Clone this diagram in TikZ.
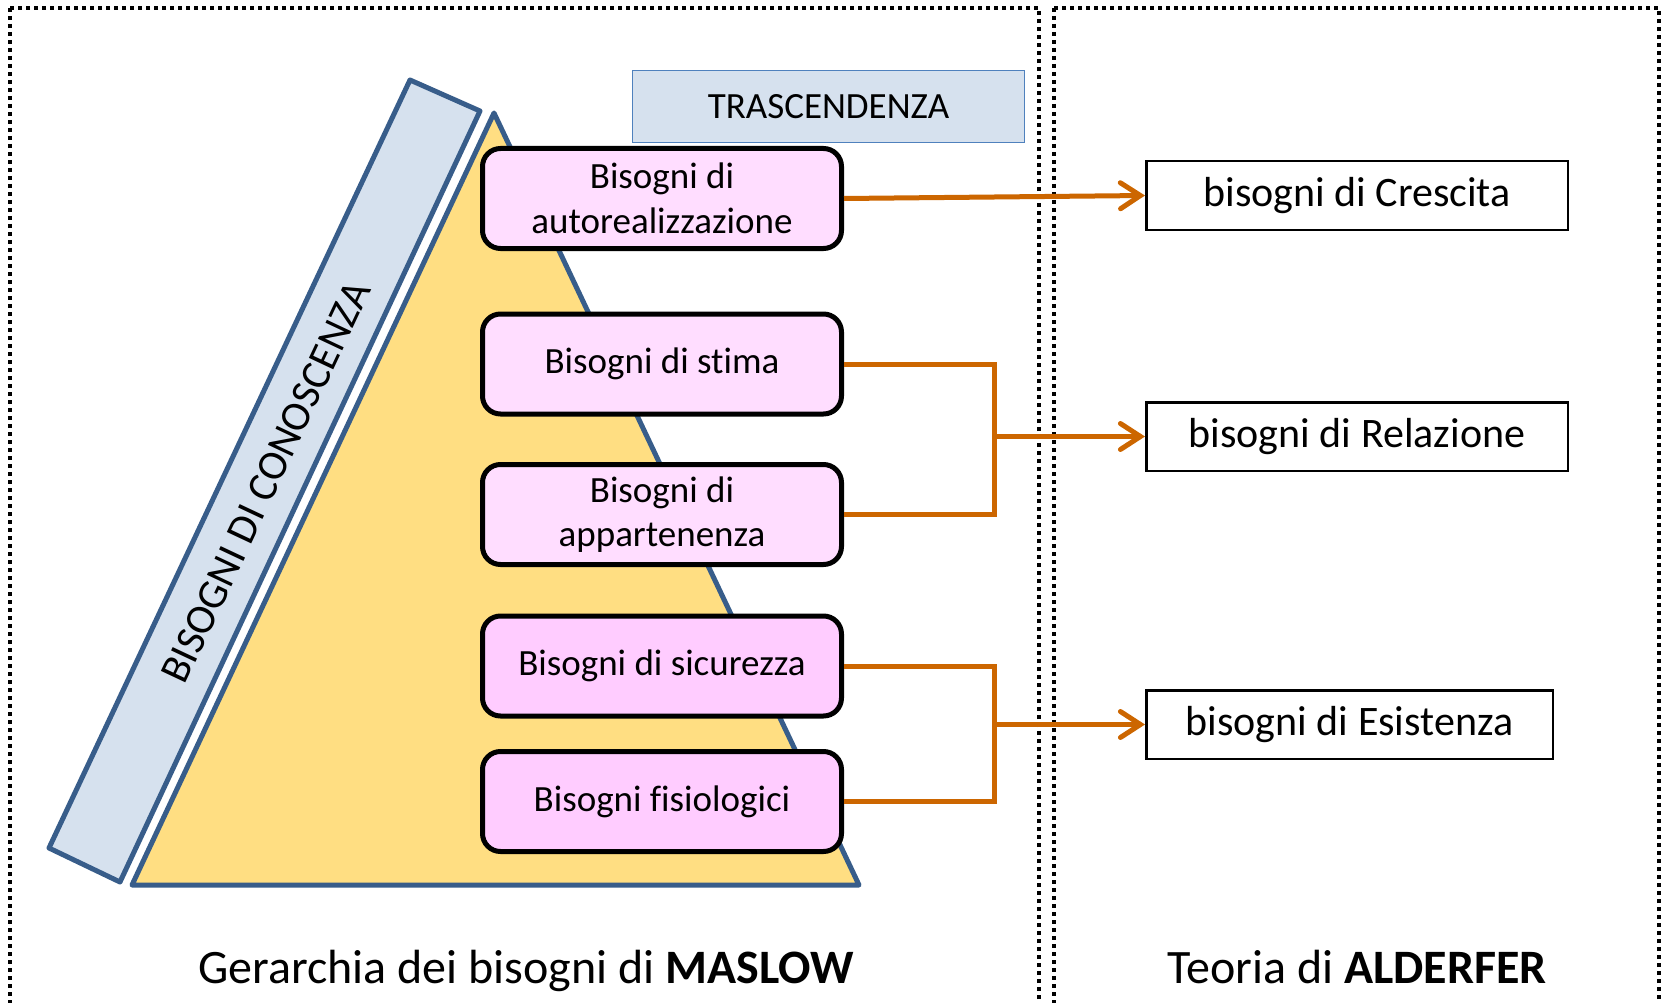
\documentclass[tikz,border=0pt]{standalone}
\usepackage{fontspec}
\setmainfont{Carlito}[Ligatures=NoCommon]
\usetikzlibrary{arrows.meta}
\definecolor{edgeblue}{RGB}{56,93,138}
\definecolor{paleblue}{RGB}{214,225,238}
\definecolor{frameblue}{RGB}{79,129,189}
\definecolor{pyrgold}{RGB}{255,222,130}
\definecolor{pinkA}{RGB}{255,221,255}
\definecolor{pinkB}{RGB}{255,204,255}
\definecolor{linkorange}{RGB}{204,102,0}
\begin{document}
\begin{tikzpicture}[x=1pt,y=-1pt,panel/.style={draw=black,line width=3.5pt,dash pattern=on 4pt off 4pt},need/.style={draw=black,line width=5pt,rounded corners=18pt,minimum width=359pt,minimum height=100pt,inner sep=0pt,align=center,font=\fontsize{37}{44.5}\selectfont},needA/.style={need,fill=pinkA},needB/.style={need,fill=pinkB},erg/.style={draw=black,line width=2.5pt,minimum height=68.5pt,inner sep=0pt,font=\fontsize{42}{50}\selectfont},link/.style={draw=linkorange,line width=5pt},linkarrow/.style={link,-{Straight Barb[length=20pt,width=26pt,line cap=round]}},caption/.style={anchor=base,font=\fontsize{48}{58}\selectfont}]
\def\xn{662};
\def\xj{994};
\def\xg{1357};

\useasboundingbox (0,0) rectangle (1662,1003);
\draw[panel] (10,8) rectangle (1039,1005);
\draw[panel] (1054,8) rectangle (1659,1005);

\draw[edgeblue,line width=5pt,line join=round,fill=paleblue] (410,80) -- (480,111) -- (120,882) -- (49,848) -- cycle;
\node[rotate=64.8,font=\fontsize{42}{50}\selectfont] (know) at (266,482) {BISOGNI DI CONOSCENZA};
\draw[edgeblue,line width=5pt,line join=round,fill=pyrgold] (494,113) -- (859,885) -- (132,885) -- cycle;

\node[draw=frameblue,line width=1.2pt,fill=paleblue,minimum width=392pt,minimum height=72pt,font=\fontsize{37}{44.5}\selectfont] (trans) at (828.5,106.5) {TRASCENDENZA};

\node[needA] (self) at (\xn,198.5) {Bisogni di\\autorealizzazione};
\node[needA] (esteem) at (\xn,364) {Bisogni di stima};
\node[needA] (belong) at (\xn,514.5) {Bisogni di\\appartenenza};
\node[needB] (safety) at (\xn,666) {Bisogni di sicurezza};
\node[needB] (physio) at (\xn,801.5) {Bisogni fisiologici};

\node[erg,minimum width=421.5pt] (growth) at (\xg,195.5) {bisogni di Crescita};
\node[erg,minimum width=421.5pt] (relate) at (\xg,436.5) {bisogni di Relazione};
\node[erg,minimum width=406.5pt] (exist) at (1349.5,724.5) {bisogni di Esistenza};

\coordinate (jR) at (\xj,436.5);
\coordinate (jE) at (\xj,724.5);

\draw[linkarrow] (self.east) -- (growth.west);
\draw[link] (esteem.east) -| (jR) |- (belong.east);
\draw[linkarrow] (jR) -- (relate.west);
\draw[link] (safety.east) -| (jE) |- (physio.east);
\draw[linkarrow] (jE) -- (exist.west);

\node[caption] (maslow) at (526,983) {Gerarchia dei bisogni di \textbf{MASLOW}};
\node[caption] (alderfer) at (1357,983) {Teoria di \textbf{ALDERFER}};
\end{tikzpicture}
\end{document}
